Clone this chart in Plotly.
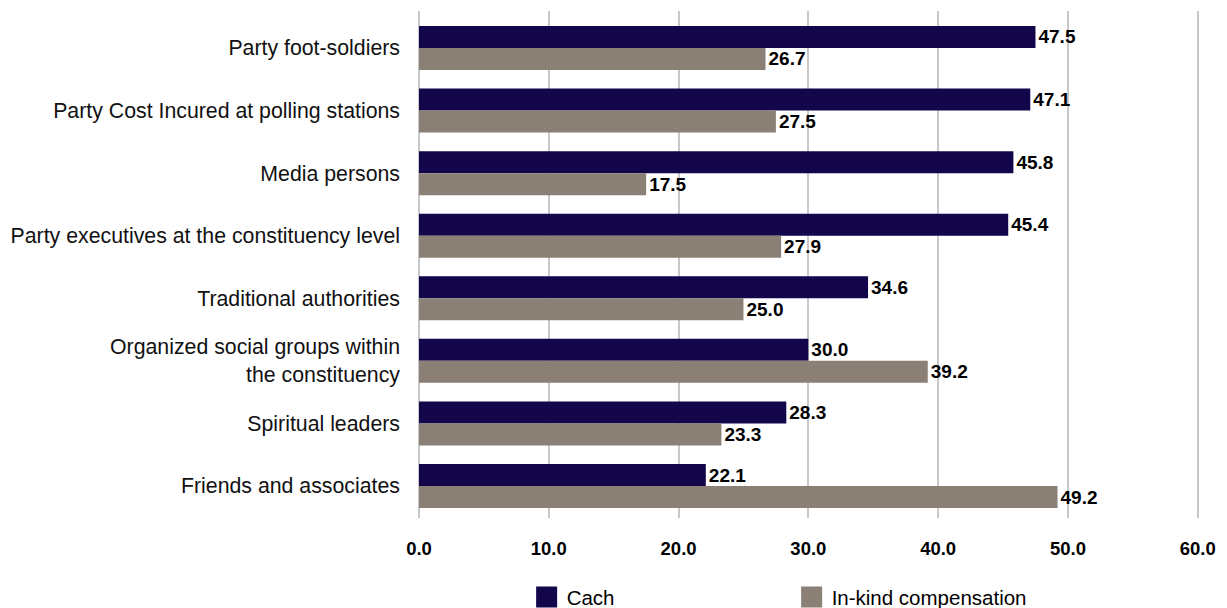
import plotly.graph_objects as go

# Recipients of campaign spending and how they were paid (%)
categories = [
    "Party foot-soldiers",
    "Party Cost Incured at polling stations",
    "Media persons",
    "Party executives at the constituency level",
    "Traditional authorities",
    "Organized social groups within<br>the constituency",
    "Spiritual leaders",
    "Friends and associates",
]
cash_values = [47.5, 47.1, 45.8, 45.4, 34.6, 30.0, 28.3, 22.1]
in_kind_values = [26.7, 27.5, 17.5, 27.9, 25.0, 39.2, 23.3, 49.2]
series_names = ["Cach", "In-kind compensation"]
x_ticks = [0, 10, 20, 30, 40, 50, 60]

CASH_COLOR = "#13064B"
KIND_COLOR = "#8B8076"
FONT = "Liberation Sans, Arial, sans-serif"

fig = go.Figure()

for name, values, color in [
    (series_names[0], cash_values, CASH_COLOR),
    (series_names[1], in_kind_values, KIND_COLOR),
]:
    fig.add_trace(go.Bar(
        y=categories,
        x=values,
        orientation="h",
        name=name,
        marker=dict(color=color, line=dict(width=0)),
        text=[f"{v:.1f}" for v in values],
        textposition="outside",
        textfont=dict(family=FONT, size=19, color="#000000", weight="bold"),
        cliponaxis=False,
        showlegend=False,
    ))
    # legend entry with a larger square swatch
    fig.add_trace(go.Scatter(
        x=[None],
        y=[None],
        mode="markers",
        name=name,
        marker=dict(symbol="square", size=16, color=color,
                    line=dict(color=color, width=5)),
        showlegend=True,
        hoverinfo="skip",
    ))

fig.update_layout(
    width=1227,
    height=608,
    margin=dict(l=417, r=23, t=11, b=90),
    paper_bgcolor="white",
    plot_bgcolor="white",
    barmode="group",
    bargap=0.297,
    bargroupgap=0,
    font=dict(family=FONT, color="#000000"),
    legend=dict(
        orientation="h",
        xref="paper",
        x=0.138,
        xanchor="left",
        yref="container",
        y=0.018,
        yanchor="middle",
        font=dict(family=FONT, size=20.5, color="#000000"),
        entrywidth=220,
        entrywidthmode="pixels",
        bgcolor="rgba(0,0,0,0)",
        borderwidth=0,
    ),
)

fig.update_xaxes(
    range=[0, 60.1],
    tickvals=x_ticks,
    ticktext=[f"{t:.1f}" for t in x_ticks],
    showgrid=True,
    gridcolor="#C8C8C8",
    gridwidth=2,
    zeroline=True,
    zerolinecolor="#C8C8C8",
    zerolinewidth=2,
    showline=False,
    ticks="",
    ticklabelstandoff=17,
    tickfont=dict(family=FONT, size=18.5, color="#000000", weight="bold"),
)

fig.update_yaxes(
    categoryorder="array",
    categoryarray=categories,
    range=[7.511, -0.591],
    showgrid=False,
    zeroline=False,
    showline=False,
    ticks="",
    ticklabelstandoff=18,
    tickfont=dict(family=FONT, size=21.3, color="#111111"),
)

fig.write_html("out.html")
